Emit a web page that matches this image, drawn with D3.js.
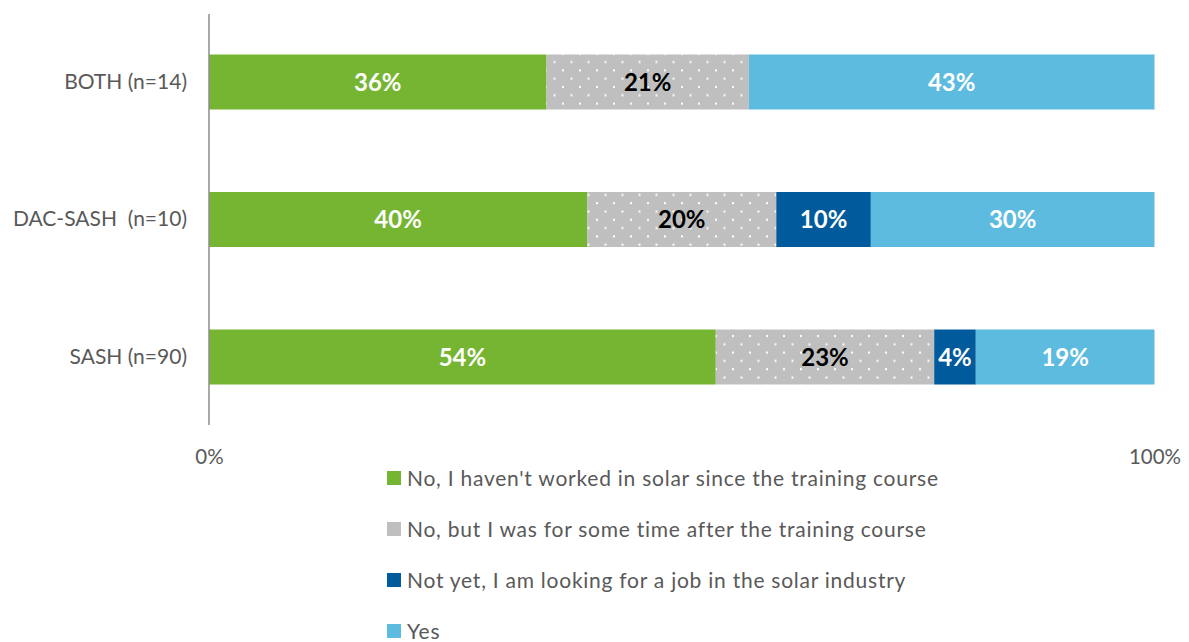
<!DOCTYPE html>
<html><head><meta charset="utf-8">
<script src="https://cdn.jsdelivr.net/npm/d3@7"></script>
<style>body{margin:0;background:#fff;} svg{display:block;}</style>
</head><body>
<svg id="chart" width="1189" height="642"></svg>
<script>
const categories = ["BOTH (n=14)", "DAC-SASH  (n=10)", "SASH (n=90)"];
const seriesNames = [
  "No, I haven't worked in solar since the training course",
  "No, but I was for some time after the training course",
  "Not yet, I am looking for a job in the solar industry",
  "Yes"
];
const noNeverWorked = [35.7, 40, 53.6];
const noButWas = [21.4, 20, 23.1];
const notYetLooking = [0, 10, 4.4];
const yesWorking = [42.9, 30, 18.9];
const tickLabels = ["0%", "100%"];

const seriesValues = [noNeverWorked, noButWas, notYetLooking, yesWorking];
const colors = ["#76B531", "#BFBFBF", "#005A9C", "#5DBBE0"];
const labelColors = ["#fff", "#000", "#fff", "#fff"];

const svg = d3.select("#chart");
const font = "Lato, 'Open Sans', sans-serif";
const W = 1189;
const plotLeft = 209, plotRight = 1154.5, plotTop = 14, plotBottom = 425;

const defs = svg.append("defs");
const pat = defs.append("pattern").attr("id", "dots").attr("patternUnits", "userSpaceOnUse")
  .attr("width", 17).attr("height", 16.6);
pat.append("rect").attr("width", 17).attr("height", 16.6).attr("fill", "#BFBFBF");
pat.append("rect").attr("x", 1).attr("y", 3).attr("width", 2).attr("height", 2).attr("fill", "#fff");
pat.append("rect").attr("x", 9.5).attr("y", 11.3).attr("width", 2).attr("height", 2).attr("fill", "#fff");

const x = d3.scaleLinear().domain([0, 100]).range([plotLeft, plotRight]);
const y = d3.scaleBand().domain(categories).range([plotTop, plotBottom]).paddingInner(0.6).paddingOuter(0.2945);

const rows = categories.map((c, i) => {
  let acc = 0;
  return seriesValues.map((s, k) => {
    const v = s[i];
    const seg = {cat: c, k, x0: acc, x1: acc + v, v};
    acc += v;
    return seg;
  });
}).flat();

svg.append("g").selectAll("rect").data(rows.filter(d => d.v > 0)).join("rect")
  .attr("x", d => x(d.x0)).attr("width", d => x(d.x1) - x(d.x0))
  .attr("y", d => y(d.cat)).attr("height", y.bandwidth())
  .attr("fill", d => d.k === 1 ? "url(#dots)" : colors[d.k]);

svg.append("g").selectAll("text").data(rows.filter(d => d.v > 0)).join("text")
  .attr("x", d => (x(d.x0) + x(d.x1)) / 2).attr("y", d => y(d.cat) + y.bandwidth() / 2)
  .attr("dy", "0.36em").attr("text-anchor", "middle")
  .attr("font-family", font).attr("font-weight", "bold").attr("font-size", 24)
  .attr("fill", d => labelColors[d.k])
  .text(d => Math.round(d.v) + "%");

// y axis
const yAxis = svg.append("g").attr("transform", `translate(${plotLeft},0)`)
  .call(d3.axisLeft(y).tickSize(0).tickPadding(22));
yAxis.select(".domain").attr("stroke", "#8C8C8C").attr("stroke-width", 1.5)
  .attr("d", `M0,${plotTop}V${plotBottom}`);
yAxis.selectAll("text").attr("font-family", font).attr("font-size", 21).attr("fill", "#595959")
  .style("white-space", "pre");

// x ticks
const xAxis = svg.append("g").attr("transform", `translate(0,${plotBottom})`)
  .call(d3.axisBottom(x).tickValues([0, 100]).tickSize(0).tickPadding(24)
    .tickFormat((d, i) => tickLabels[i]));
xAxis.select(".domain").remove();
xAxis.selectAll("text").attr("font-family", font).attr("font-size", 20.5).attr("fill", "#595959");

// legend
const leg = svg.append("g").attr("transform", "translate(387,0)");
const legItems = leg.selectAll("g").data(seriesNames).join("g")
  .attr("transform", (d, i) => `translate(0,${478 + i * 51})`);
legItems.append("rect").attr("x", 0).attr("y", -7).attr("width", 14).attr("height", 14)
  .attr("fill", (d, i) => i === 1 ? "#BFBFBF" : colors[i]);
legItems.append("text").attr("x", 20).attr("dy", "0.36em")
  .attr("font-family", font).attr("font-size", 21).attr("fill", "#595959")
  .attr("letter-spacing", 0.75)
  .text(d => d);
</script>
</body></html>
